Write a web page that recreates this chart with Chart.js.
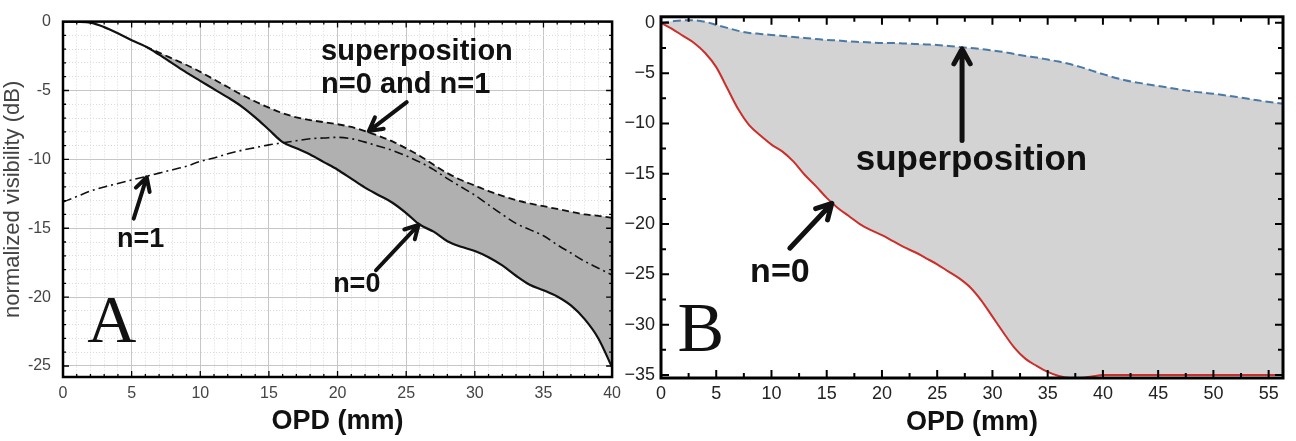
<!DOCTYPE html>
<html>
<head>
<meta charset="utf-8">
<script src="https://cdn.jsdelivr.net/npm/chart.js@4.4.1/dist/chart.umd.min.js"></script>
<style>
html, body { margin: 0; padding: 0; background: #fff; }
#wrap { position: relative; width: 1296px; height: 441px; overflow: hidden; }
#chartA { position: absolute; left: 0; top: 0; }
#chartB { position: absolute; left: 622px; top: 0; }
</style>
</head>
<body>
<div id="wrap">
<canvas id="chartA" width="628" height="441" style="width:628px;height:441px"></canvas>
<canvas id="chartB" width="674" height="441" style="width:674px;height:441px"></canvas>
</div>
<script>
// ---- panel A: OPD (mm) vs normalized visibility (dB)
var opdA = [0,1,2,3,4,5,6,7,8,9,10,11,12,13,14,15,16,17,18,19,20,21,22,23,24,25,26,27,28,29,30,31,32,33,34,35,36,37,38,39,40];
var n0A = [0,-0.02,-0.08,-0.4,-0.85,-1.35,-1.8,-2.4,-3.05,-3.7,-4.3,-4.9,-5.5,-6.15,-6.95,-7.85,-8.75,-9.2,-9.65,-10.2,-10.75,
           -11.4,-12.05,-12.6,-13.15,-13.9,-14.75,-15.25,-15.95,-16.35,-16.65,-17.1,-17.7,-18.45,-19.1,-19.5,-19.95,-20.6,-21.6,-23.0,-25.1];
var n1A = [-13.1,-12.7,-12.3,-12.0,-11.75,-11.5,-11.25,-11.0,-10.75,-10.5,-10.15,-9.9,-9.6,-9.35,-9.15,-8.95,-8.8,-8.65,-8.5,-8.45,-8.4,
           -8.5,-8.75,-9.05,-9.35,-9.75,-10.2,-10.75,-11.4,-12.0,-12.6,-13.3,-14.0,-14.65,-15.1,-15.55,-16.2,-16.8,-17.4,-17.9,-18.4];
// superposition splits from n=0 at about 6 mm
var opdSupA = [6,7,8,9,10,11,12,13,14,15,16,17,18,19,20,21,22,23,24,25,26,27,28,29,30,31,32,33,34,35,36,37,38,39,40];
var supA = [-1.8,-2.25,-2.7,-3.15,-3.65,-4.2,-4.75,-5.3,-5.8,-6.25,-6.65,-6.95,-7.15,-7.3,-7.45,-7.65,-7.95,-8.3,-8.7,-9.2,
            -9.75,-10.4,-11.0,-11.5,-11.9,-12.3,-12.65,-12.95,-13.2,-13.4,-13.6,-13.8,-14.0,-14.1,-14.25];
var xLabelsA = [0,5,10,15,20,25,30,35,40];
var yLabelsA = [0,-5,-10,-15,-20,-25];

// ---- panel B
var opdB = [0,1,2,3,4,5,6,7,8,9,10,11,12,13,14,15,16,17,18,19,20,21,22,23,24,25,26,27,28,29,30,31,32,33,34,35,36,37,38,39,40,
            42,44,46,48,50,52,54,56.3];
var n0B = [0,-0.6,-1.3,-2.0,-3.0,-4.4,-6.5,-8.6,-10.2,-11.2,-12.1,-12.8,-13.8,-15.1,-16.2,-17.4,-18.4,-19.2,-20.0,-20.6,
           -21.1,-21.7,-22.3,-22.8,-23.4,-24.0,-24.7,-25.4,-26.3,-27.6,-29.2,-30.8,-32.3,-33.4,-34.1,-34.7,-35.1,-35.3,-35.3,-35.15,-35.0,
           -35.0,-35.0,-35.0,-35.0,-35.0,-35.0,-35.0,-35.0];
var supB = [0,0.15,0.25,0.25,0.1,-0.2,-0.5,-0.8,-1.0,-1.1,-1.2,-1.3,-1.4,-1.5,-1.6,-1.7,-1.75,-1.85,-1.9,-1.95,
            -2.0,-2.0,-2.05,-2.1,-2.15,-2.2,-2.3,-2.4,-2.5,-2.6,-2.75,-2.9,-3.1,-3.3,-3.45,-3.65,-3.85,-4.1,-4.4,-4.75,-5.1,
            -5.7,-6.1,-6.45,-6.8,-7.05,-7.35,-7.7,-8.05];
var xLabelsB = [0,5,10,15,20,25,30,35,40,45,50,55];
var yLabelsB = [0,-5,-10,-15,-20,-25,-30,-35];

Chart.defaults.font.family = "'Liberation Sans', Arial, sans-serif";

function pts(xs, ys) {
    return xs.map(function (x, i) { return { x: x, y: ys[i] }; });
}

function steps(from, to, step) {
    var out = [];
    for (var v = from; v <= to + 1e-9; v += step) out.push(Math.round(v * 100) / 100);
    return out;
}

function isMult(v, m) {
    var r = v / m;
    return Math.abs(r - Math.round(r)) < 1e-6;
}

// frame, inward ticks, text notes and arrows
function overlay(style, notes, arrows) {
    return {
        id: 'overlay',
        afterDatasetsDraw: function (chart) {
            var ctx = chart.ctx, a = chart.chartArea;
            var xs = chart.scales.x, ys = chart.scales.y;
            ctx.save();
            ctx.strokeStyle = '#000';
            ctx.lineWidth = style.tickWidth;
            ctx.beginPath();
            xs.ticks.forEach(function (t) {
                var p = xs.getPixelForValue(t.value);
                var len = isMult(t.value, 5) ? style.major : style.minor;
                ctx.moveTo(p, a.bottom); ctx.lineTo(p, a.bottom - len);
                ctx.moveTo(p, a.top); ctx.lineTo(p, a.top + len);
            });
            ys.ticks.forEach(function (t) {
                var p = ys.getPixelForValue(t.value);
                var len = isMult(t.value, 5) ? style.major : style.minor;
                ctx.moveTo(a.left, p); ctx.lineTo(a.left + len, p);
                ctx.moveTo(a.right, p); ctx.lineTo(a.right - len, p);
            });
            ctx.stroke();
            ctx.lineWidth = style.frame;
            ctx.strokeRect(a.left, a.top, a.right - a.left, a.bottom - a.top);

            // arrows
            ctx.strokeStyle = '#111';
            ctx.lineCap = 'round';
            ctx.lineJoin = 'round';
            arrows.forEach(function (ar) {
                var x1 = xs.getPixelForValue(ar.from[0]), y1 = ys.getPixelForValue(ar.from[1]);
                var x2 = xs.getPixelForValue(ar.to[0]), y2 = ys.getPixelForValue(ar.to[1]);
                var ang = Math.atan2(y2 - y1, x2 - x1);
                var h = style.head;
                ctx.lineWidth = style.arrow;
                ctx.beginPath();
                ctx.moveTo(x1, y1); ctx.lineTo(x2, y2);
                ctx.moveTo(x2 - h * Math.cos(ang - 0.5), y2 - h * Math.sin(ang - 0.5));
                ctx.lineTo(x2, y2);
                ctx.lineTo(x2 - h * Math.cos(ang + 0.5), y2 - h * Math.sin(ang + 0.5));
                ctx.stroke();
            });

            // text
            ctx.fillStyle = '#111';
            ctx.textBaseline = 'middle';
            notes.forEach(function (n) {
                ctx.font = n.font;
                ctx.textAlign = n.align || 'center';
                ctx.fillText(n.text, xs.getPixelForValue(n.x), ys.getPixelForValue(n.y));
            });
            ctx.restore();
        }
    };
}

var notesA = [
    { text: 'superposition', x: 18.8, y: -2.2, align: 'left', font: "bold 29px 'Liberation Sans', Arial" },
    { text: 'n=0 and n=1', x: 18.8, y: -4.6, align: 'left', font: "bold 29px 'Liberation Sans', Arial" },
    { text: 'n=1', x: 5.66, y: -15.85, font: "bold 27px 'Liberation Sans', Arial" },
    { text: 'n=0', x: 21.4, y: -19.1, font: "bold 27px 'Liberation Sans', Arial" },
    { text: 'A', x: 3.56, y: -21.95, font: "68px 'Liberation Serif', 'Times New Roman', serif" }
];
var arrowsA = [
    { from: [5.15, -14.3], to: [6.1, -11.3] },
    { from: [25.04, -5.85], to: [22.28, -7.95] },
    { from: [22.8, -18.05], to: [25.9, -14.75] }
];
var notesB = [
    { text: 'superposition', x: 28.1, y: -13.7, font: "bold 35px 'Liberation Sans', Arial" },
    { text: 'n=0', x: 10.76, y: -24.8, font: "bold 34px 'Liberation Sans', Arial" },
    { text: 'B', x: 3.6, y: -30.8, font: "70px 'Liberation Serif', 'Times New Roman', serif" }
];
var arrowsB = [
    { from: [27.25, -11.7], to: [27.25, -2.6] },
    { from: [11.66, -22.4], to: [15.46, -17.95] }
];

// ---- chart A
var gridA = {
    drawTicks: false,
    color: function (c) { return isMult(c.tick.value, 5) ? '#c6c6c6' : '#dadada'; },
    lineWidth: 1
};
var borderA = {
    display: false,
    dash: function (c) { return isMult(c.tick.value, 5) ? [] : [1, 2]; }
};

new Chart(document.getElementById('chartA'), {
    type: 'line',
    data: {
        datasets: [
            {
                label: 'n=1',
                data: pts(opdA, n1A),
                borderColor: '#111',
                borderWidth: 1.6,
                borderDash: [9, 4, 2, 4],
                pointRadius: 0,
                cubicInterpolationMode: 'monotone',
                fill: false
            },
            {
                label: 'n=0',
                data: pts(opdA, n0A),
                borderColor: '#111',
                borderWidth: 2.2,
                pointRadius: 0,
                cubicInterpolationMode: 'monotone',
                fill: false
            },
            {
                label: 'superposition',
                data: pts(opdSupA, supA),
                borderColor: '#111',
                borderWidth: 1.8,
                borderDash: [7, 4],
                pointRadius: 0,
                cubicInterpolationMode: 'monotone',
                fill: { target: 1 },
                backgroundColor: '#b0b0b0'
            }
        ]
    },
    options: {
        responsive: false,
        animation: false,
        layout: { padding: { left: 0, right: 14, top: 12, bottom: 0 } },
        plugins: { legend: { display: false }, tooltip: { enabled: false } },
        scales: {
            x: {
                type: 'linear',
                min: 0, max: 40,
                afterBuildTicks: function (s) { s.ticks = steps(0, 40, 1).map(function (v) { return { value: v }; }); },
                afterFit: function (s) { s.height = 64; },
                grid: gridA,
                border: borderA,
                ticks: {
                    autoSkip: false, maxRotation: 0, padding: 7,
                    color: '#444', font: { size: 16 },
                    callback: function (v) { return xLabelsA.indexOf(v) >= 0 ? String(v) : ''; }
                },
                title: {
                    display: true, text: 'OPD (mm)', color: '#111',
                    font: { size: 27, weight: 'bold' }, padding: { top: 0, bottom: 3 }
                }
            },
            y: {
                type: 'linear',
                min: -25.8, max: 0,
                afterBuildTicks: function (s) { s.ticks = steps(-25, 0, 1).map(function (v) { return { value: v }; }); },
                afterFit: function (s) { s.width = 63; },
                grid: gridA,
                border: borderA,
                ticks: {
                    autoSkip: false, padding: 12,
                    color: '#444', font: { size: 16 },
                    callback: function (v) { return yLabelsA.indexOf(v) >= 0 ? String(v) : ''; }
                },
                title: {
                    display: true, text: 'normalized visibility (dB)', color: '#444',
                    font: { size: 22 }, padding: { top: 0, bottom: 0 }
                }
            }
        }
    },
    plugins: [overlay({ tickWidth: 1.3, major: 6, minor: 3, frame: 2.5, arrow: 4, head: 15 }, notesA, arrowsA)]
});

// ---- chart B
new Chart(document.getElementById('chartB'), {
    type: 'line',
    data: {
        datasets: [
            {
                label: 'n=0',
                data: pts(opdB, n0B),
                borderColor: '#cc2e2a',
                borderWidth: 2,
                pointRadius: 0,
                cubicInterpolationMode: 'monotone',
                fill: false
            },
            {
                label: 'superposition',
                data: pts(opdB, supB),
                borderColor: '#4a79a8',
                borderWidth: 2,
                borderDash: [8, 4],
                pointRadius: 0,
                cubicInterpolationMode: 'monotone',
                fill: { target: 0 },
                backgroundColor: '#d3d3d3'
            }
        ]
    },
    options: {
        responsive: false,
        animation: false,
        layout: { padding: { left: 0, right: 13, top: 16, bottom: 0 } },
        plugins: { legend: { display: false }, tooltip: { enabled: false } },
        scales: {
            x: {
                type: 'linear',
                min: 0, max: 56.3,
                afterBuildTicks: function (s) { s.ticks = steps(0, 55, 2.5).map(function (v) { return { value: v }; }); },
                afterFit: function (s) { s.height = 63; },
                grid: { display: false, drawTicks: false },
                border: { display: false },
                ticks: {
                    autoSkip: false, maxRotation: 0, padding: 5,
                    color: '#222', font: { size: 18 },
                    callback: function (v) { return xLabelsB.indexOf(v) >= 0 ? String(v) : ''; }
                },
                title: {
                    display: true, text: 'OPD (mm)', color: '#111',
                    font: { size: 27, weight: 'bold' }, padding: { top: 0, bottom: 2 }
                }
            },
            y: {
                type: 'linear',
                min: -35.3, max: 0.6,
                afterBuildTicks: function (s) { s.ticks = steps(-35, 0, 2.5).map(function (v) { return { value: v }; }); },
                afterFit: function (s) { s.width = 39; },
                grid: { display: false, drawTicks: false },
                border: { display: false },
                ticks: {
                    autoSkip: false, padding: 6,
                    color: '#222', font: { size: 18 },
                    callback: function (v) { return yLabelsB.indexOf(v) >= 0 ? String(v).replace('-', '\u2212') : ''; }
                }
            }
        }
    },
    plugins: [overlay({ tickWidth: 2, major: 8, minor: 5, frame: 3, arrow: 5, head: 17 }, notesB, arrowsB)]
});
</script>
</body>
</html>
